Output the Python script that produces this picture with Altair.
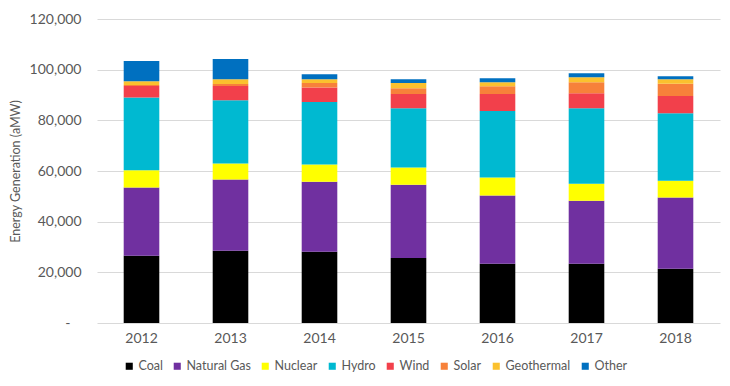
import altair as alt
import pandas as pd

years = ["2012", "2013", "2014", "2015", "2016", "2017", "2018"]
sources = ["Coal", "Natural Gas", "Nuclear", "Hydro", "Wind", "Solar", "Geothermal", "Other"]
colors = ["#000000", "#7030A0", "#FFFF00", "#00B9D1", "#F2404B", "#F7813A", "#FBC12E", "#0070C0"]

coal = [26500, 28500, 28100, 25700, 23400, 23400, 21400]
natural_gas = [27000, 28100, 27700, 28900, 26900, 24900, 28100]
nuclear = [6800, 6400, 6800, 6800, 7100, 6700, 6700]
hydro = [28700, 24900, 24600, 23400, 26300, 29800, 26600]
wind = [4600, 5700, 5800, 5600, 6700, 5900, 6800]
solar = [300, 700, 1700, 2300, 3100, 4300, 4800]
geothermal = [1500, 1900, 1500, 2000, 1500, 2000, 1800]
other = [8000, 8000, 2000, 1500, 1600, 1600, 1200]

series = [coal, natural_gas, nuclear, hydro, wind, solar, geothermal, other]
rows = []
for s, vals in zip(sources, series):
    for i, (y, v) in enumerate(zip(years, vals)):
        rows.append({"Year": y, "Source": s, "Value": v, "order": sources.index(s)})
df = pd.DataFrame(rows)

font = "Lato"

chart = alt.Chart(df).mark_bar().encode(
    x=alt.X("Year:N", title=None, scale=alt.Scale(paddingInner=0.6, paddingOuter=0.3),
            axis=alt.Axis(labelAngle=0, ticks=False, domain=False, labelPadding=8,
                          labelFontSize=14, labelColor="#595959", labelFont=font)),
    y=alt.Y("Value:Q", title="Energy Generation (aMW)",
            scale=alt.Scale(domain=[0, 120000]),
            axis=alt.Axis(values=[0, 20000, 40000, 60000, 80000, 100000, 120000],
                          labelExpr="datum.value == 0 ? '-' : format(datum.value, ',')",
                          ticks=False, domain=False, gridColor="#D9D9D9",
                          labelPadding={"condition": {"test": "datum.value == 0", "value": 27}, "value": 16},
                          labelFontSize=14, labelColor="#595959", labelFont=font,
                          titleFont=font, titleFontSize=12.5, titleColor="#595959", titleFontWeight="normal",
                          titlePadding=7)),
    color=alt.Color("Source:N", scale=alt.Scale(domain=sources, range=colors),
                    legend=alt.Legend(title=None, orient="none", direction="horizontal",
                                      legendX=26, legendY=341, symbolType="square",
                                      symbolSize=50, symbolStrokeWidth=0,
                                      labelFont=font, labelFontSize=12.5, labelColor="#595959",
                                      columnPadding=8, labelOffset=3, gridAlign="none")),
    order=alt.Order("order:Q", sort="ascending"),
).properties(
    width=623, height=304,
    autosize=alt.AutoSizeParams(type="none"),
    padding={"left": 89, "top": 11, "right": 2, "bottom": 55},
).configure_view(stroke=None)

chart.save("out.html", embed_options={"renderer": "svg", "actions": False})
